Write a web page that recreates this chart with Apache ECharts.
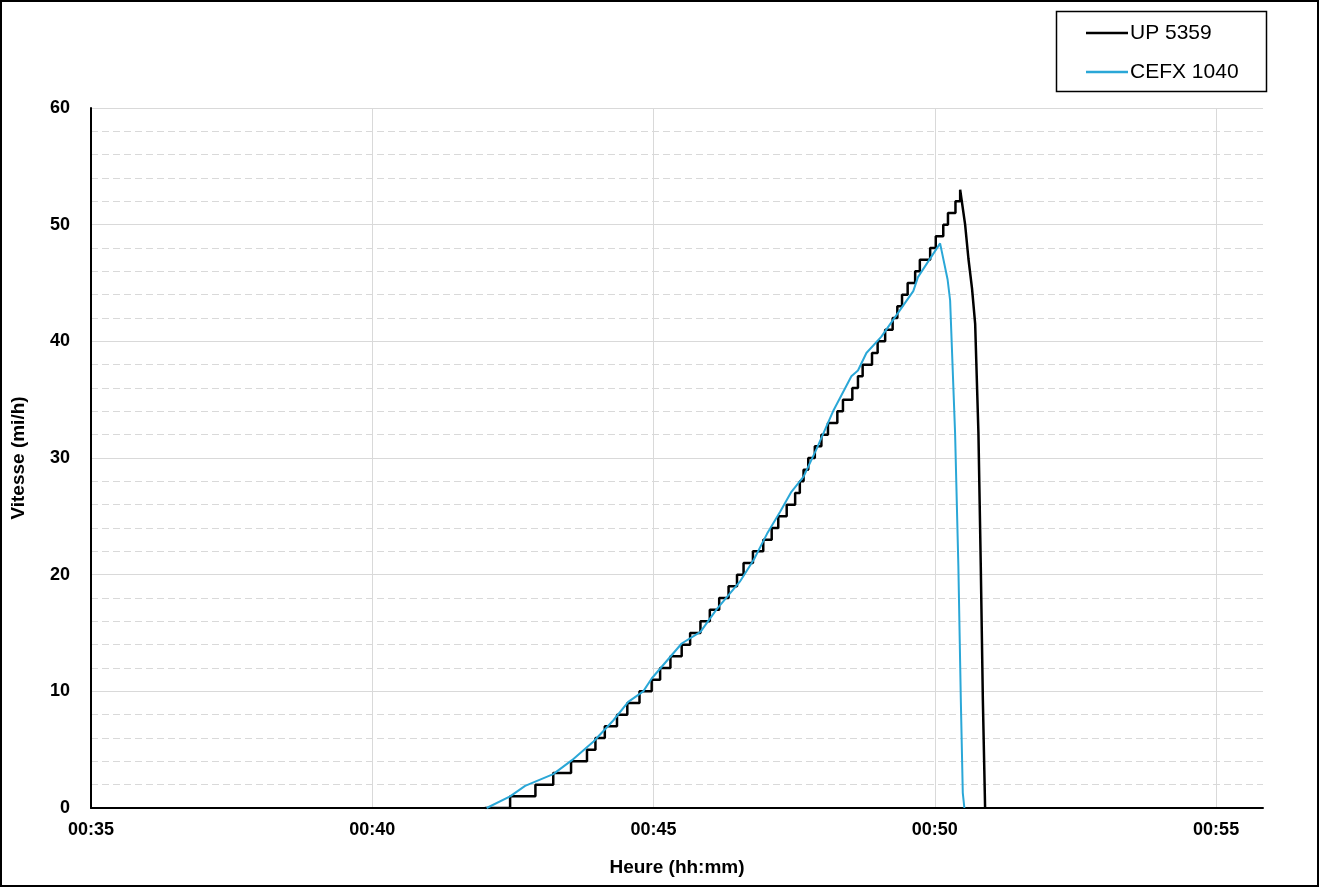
<!DOCTYPE html>
<html>
<head>
<meta charset="utf-8">
<script src="https://cdn.jsdelivr.net/npm/echarts@6/dist/echarts.min.js"></script>
<style>
html,body{margin:0;padding:0;background:#fff;}
#chart{width:1320px;height:888px;}
</style>
</head>
<body>
<div id="chart"></div>
<script>
// ---- Data (times as mm:ss after 00:00) ----
const seriesNames = ["UP 5359", "CEFX 1040"];
const xTickLabels = ["00:35", "00:40", "00:45", "00:50", "00:55"];

// UP 5359: step changes (time when speed becomes value)
const upStartTime = "42:00";
const upStepTimes = ["42:27","42:54","43:13","43:32","43:49","43:58","44:08","44:21","44:32","44:45",
  "44:58","45:07","45:18","45:30","45:39","45:50","46:00","46:10","46:20","46:29",
  "46:36","46:46","46:57","47:06","47:13","47:22","47:31","47:36","47:40","47:45",
  "47:52","47:59","48:06","48:16","48:22","48:32","48:38","48:43","48:53","48:59",
  "49:07","49:15","49:20","49:25","49:31","49:39","49:44","49:55","50:01","50:09",
  "50:14","50:22","50:27"];
const upStepSpeeds = [1,2,3,4,5,6,7,8,9,10,11,12,13,14,15,16,17,18,19,20,21,22,23,24,25,26,27,28,29,30,
  31,32,33,34,35,36,37,38,39,40,41,42,43,44,45,46,47,48,49,50,51,52,53];
// UP 5359: deceleration
const upDropTimes = ["50:32.3","50:35.8","50:39.7","50:43","50:46.5","50:49","50:51.2","50:53.6"];
const upDropSpeeds = [50, 47.1, 44.5, 41.5, 32.1, 20.7, 9.3, 0];

// CEFX 1040
const cefxTimes = ["42:02","42:27","42:43","43:13","43:33","43:56","44:17","44:33","44:49","44:58",
  "45:30","45:50","46:07","46:32","46:47","47:01","47:15","47:27","47:40","47:54",
  "48:12","48:31","48:38","48:47","49:03","49:23","49:37","49:42","50:05.6","50:13.6",
  "50:16.3","50:21.6","50:25.1","50:27.7","50:29.8","50:31.5"];
const cefxSpeeds = [0,1.0,1.9,2.9,4.1,5.7,7.5,9.1,10.0,11.1,
  14.1,15.1,17.0,19.4,21.3,23.5,25.4,27.1,28.4,30.8,
  34.1,37.0,37.5,39.0,40.4,42.7,44.3,45.5,48.4,45.3,
  43.5,32.1,20.7,9.3,1.3,0];

// ---- Build ----
function toSec(s){ const p = s.split(':'); return (+p[0])*60 + parseFloat(p[1]); }
function labelToSec(l){ const p = l.split(':'); return (+p[0])*3600 + (+p[1])*60; }

const upData = [[toSec(upStartTime), 0]];
let prev = 0;
for (let i = 0; i < upStepTimes.length; i++) {
  const t = toSec(upStepTimes[i]);
  upData.push([t, prev]);
  upData.push([t, upStepSpeeds[i]]);
  prev = upStepSpeeds[i];
}
for (let i = 0; i < upDropTimes.length; i++) upData.push([toSec(upDropTimes[i]), upDropSpeeds[i]]);

const cefxData = cefxTimes.map((t, i) => [toSec(t), cefxSpeeds[i]]);

const xMin = labelToSec(xTickLabels[0]);
const xStep = labelToSec(xTickLabels[1]) - xMin;
const xMax = 55*60 + 50;

function pad(n){ return (n < 10 ? '0' : '') + n; }

const font = "'Liberation Sans', Arial, sans-serif";
const chart = echarts.init(document.getElementById('chart'));
chart.setOption({
  animation: false,
  backgroundColor: '#fff',
  grid: { left: 91, right: 57, top: 108, bottom: 80, containLabel: false },
  legend: {
    data: [
      { name: seriesNames[0], itemStyle: { color: '#000' } },
      { name: seriesNames[1], itemStyle: { color: '#2aa7d7' } }
    ],
    orient: 'vertical',
    left: 1086, top: 21, padding: 0,
    itemWidth: 42, itemHeight: 2.5, itemGap: 15,
    textStyle: { fontFamily: font, fontSize: 21, color: '#000', padding: [0,0,0,-3], lineHeight: 24 },
    icon: 'rect'
  },
  graphic: [
    { type: 'rect', shape: { x: 1, y: 1, width: 1317, height: 885 }, style: { fill: null, stroke: '#000', lineWidth: 2 }, silent: true },
    { type: 'rect', shape: { x: 1056.5, y: 11.5, width: 210, height: 80 }, style: { fill: null, stroke: '#000', lineWidth: 1.5 }, silent: true }
  ],
  xAxis: {
    type: 'value', min: xMin, max: xMax, interval: xStep,
    name: 'Heure (hh:mm)', nameLocation: 'middle', nameGap: 50,
    nameTextStyle: { fontFamily: font, fontSize: 19, fontWeight: 'bold', color: '#000' },
    axisLine: { show: true, onZero: false, lineStyle: { color: '#000', width: 2 } },
    axisTick: { show: false },
    axisLabel: {
      fontFamily: font, fontSize: 18, fontWeight: 'bold', color: '#000', margin: 13,
      showMaxLabel: false,
      formatter: v => '00:' + pad(Math.round(v/60) % 60)
    },
    splitLine: { show: true, showMinLine: false, showMaxLine: false, lineStyle: { color: '#d9d9d9', width: 1 } }
  },
  yAxis: {
    type: 'value', min: 0, max: 60, interval: 10,
    name: 'Vitesse (mi/h)', nameLocation: 'middle', nameGap: 63, nameRotate: 90,
    nameTextStyle: { fontFamily: font, fontSize: 19, fontWeight: 'bold', color: '#000' },
    axisLine: { show: true, lineStyle: { color: '#000', width: 2 } },
    axisTick: { show: false },
    axisLabel: { fontFamily: font, fontSize: 18, fontWeight: 'bold', color: '#000', margin: 21 },
    splitLine: { show: true, showMinLine: false, lineStyle: { color: '#d9d9d9', width: 1 } },
    minorTick: { show: false, splitNumber: 5 },
    minorSplitLine: { show: true, lineStyle: { color: '#d9d9d9', width: 1, type: [7, 4] } }
  },
  series: [
    {
      name: seriesNames[0], type: 'line', data: upData, symbol: 'none',
      lineStyle: { color: '#000', width: 2.5 }, itemStyle: { color: '#000' }, z: 3
    },
    {
      name: seriesNames[1], type: 'line', data: cefxData, symbol: 'none',
      lineStyle: { color: '#2aa7d7', width: 2 }, itemStyle: { color: '#2aa7d7' }, z: 4
    }
  ]
});
</script>
</body>
</html>
